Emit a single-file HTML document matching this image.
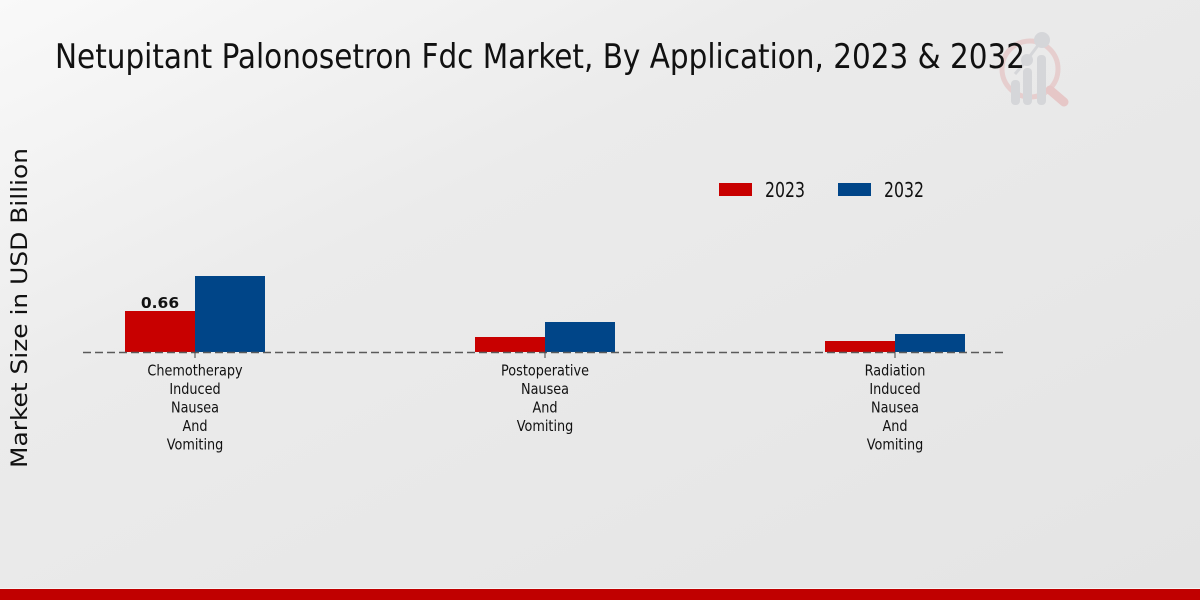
<!DOCTYPE html>
<html>
<head>
<meta charset="utf-8">
<style>
html,body{margin:0;padding:0;}
body{width:1200px;height:600px;overflow:hidden;}
svg{display:block;}
</style>
</head>
<body>
<svg width="1200" height="600" viewBox="0 0 1200 600" xmlns="http://www.w3.org/2000/svg">
  <defs>
    <linearGradient id="bg" x1="0" y1="0" x2="1" y2="1" gradientUnits="objectBoundingBox">
      <stop offset="0" stop-color="#f9f9f9"/>
      <stop offset="0.35" stop-color="#ebebeb"/>
      <stop offset="1" stop-color="#e4e4e4"/>
    </linearGradient>
  </defs>
  <rect x="0" y="0" width="1200" height="600" fill="url(#bg)"/>

  <!-- watermark logo -->
  <g opacity="0.9">
    <circle cx="1030" cy="69" r="28" fill="none" stroke="#e6cccc" stroke-width="5"/>
    <line x1="1050" y1="90" x2="1064" y2="102" stroke="#e6c4c4" stroke-width="9" stroke-linecap="round"/>
    <rect x="1011" y="80" width="9" height="25" rx="4" fill="#d3d4d8"/>
    <rect x="1023" y="68" width="9" height="37" rx="4" fill="#d3d4d8"/>
    <rect x="1037" y="55" width="9" height="50" rx="4" fill="#d3d4d8"/>
    <line x1="1015" y1="74" x2="1027" y2="60" stroke="#d3d4d8" stroke-width="3"/>
    <line x1="1027" y1="60" x2="1042" y2="40" stroke="#d3d4d8" stroke-width="3"/>
    <circle cx="1027" cy="60" r="6" fill="#d3d4d8"/>
    <circle cx="1042" cy="40" r="8" fill="#d3d4d8"/>
  </g>

  <!-- title -->
  <text x="55" y="68" font-family="'DejaVu Sans Condensed','DejaVu Sans',sans-serif" font-stretch="condensed" font-size="34" fill="#111" textLength="970" lengthAdjust="spacingAndGlyphs">Netupitant Palonosetron Fdc Market, By Application, 2023 &amp; 2032</text>

  <!-- y axis label -->
  <text transform="translate(27,308) rotate(-90)" text-anchor="middle" font-family="'DejaVu Sans',sans-serif" font-size="22" fill="#111" textLength="320" lengthAdjust="spacingAndGlyphs">Market Size in USD Billion</text>

  <!-- legend -->
  <rect x="719" y="183" width="33" height="13" fill="#c80000"/>
  <text x="765" y="197" font-family="'DejaVu Sans Condensed','DejaVu Sans',sans-serif" font-stretch="condensed" font-size="20" fill="#111" textLength="40" lengthAdjust="spacingAndGlyphs">2023</text>
  <rect x="838" y="183" width="33" height="13" fill="#004588"/>
  <text x="884" y="197" font-family="'DejaVu Sans Condensed','DejaVu Sans',sans-serif" font-stretch="condensed" font-size="20" fill="#111" textLength="40" lengthAdjust="spacingAndGlyphs">2032</text>

  <!-- bars -->
  <rect x="125" y="311" width="70" height="41" fill="#c80000"/>
  <rect x="195" y="276" width="70" height="76" fill="#004588"/>
  <rect x="475" y="337" width="70" height="15" fill="#c80000"/>
  <rect x="545" y="322" width="70" height="30" fill="#004588"/>
  <rect x="825" y="341" width="70" height="11" fill="#c80000"/>
  <rect x="895" y="334" width="70" height="18" fill="#004588"/>

  <!-- value label -->
  <text x="160" y="308" text-anchor="middle" font-family="'DejaVu Sans',sans-serif" font-weight="bold" font-size="15.5" fill="#111">0.66</text>

  <!-- baseline -->
  <line x1="83" y1="352.5" x2="1007" y2="352.5" stroke="#5a5a5a" stroke-width="1.4" stroke-dasharray="8,4"/>
  <line x1="195" y1="352" x2="195" y2="358" stroke="#444" stroke-width="1"/>
  <line x1="545" y1="352" x2="545" y2="358" stroke="#444" stroke-width="1"/>
  <line x1="895" y1="352" x2="895" y2="358" stroke="#444" stroke-width="1"/>

  <!-- category labels -->
  <g font-family="'DejaVu Sans',sans-serif" font-size="15.2" fill="#111" text-anchor="middle">
    <g transform="translate(195,0) scale(0.845,1)">
      <text x="0" y="375.5">Chemotherapy</text>
      <text x="0" y="394">Induced</text>
      <text x="0" y="412.5">Nausea</text>
      <text x="0" y="431">And</text>
      <text x="0" y="449.5">Vomiting</text>
    </g>
    <g transform="translate(545,0) scale(0.845,1)">
      <text x="0" y="375.5">Postoperative</text>
      <text x="0" y="394">Nausea</text>
      <text x="0" y="412.5">And</text>
      <text x="0" y="431">Vomiting</text>
    </g>
    <g transform="translate(895,0) scale(0.845,1)">
      <text x="0" y="375.5">Radiation</text>
      <text x="0" y="394">Induced</text>
      <text x="0" y="412.5">Nausea</text>
      <text x="0" y="431">And</text>
      <text x="0" y="449.5">Vomiting</text>
    </g>
  </g>

  <!-- bottom bar -->
  <rect x="0" y="588" width="1200" height="1" fill="#f4f4f4"/>
  <rect x="0" y="589" width="1200" height="11" fill="#c00000"/>
</svg>
</body>
</html>
